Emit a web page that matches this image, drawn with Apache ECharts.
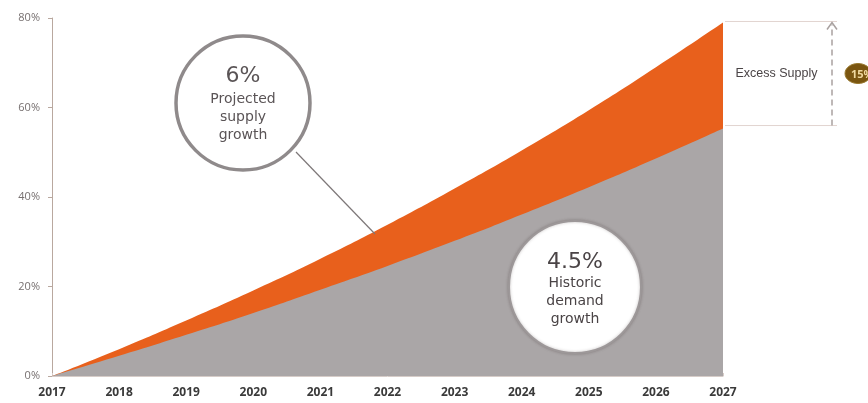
<!DOCTYPE html>
<html>
<head>
<meta charset="utf-8">
<script src="https://cdn.jsdelivr.net/npm/echarts@6/dist/echarts.min.js"></script>
<style>
  html, body { margin: 0; padding: 0; background: #ffffff; }
  #chart { width: 868px; height: 403px; }
</style>
</head>
<body>
<div id="chart"></div>
<script>
// Cumulative growth since 2017 (%)
const years = ['2017', '2018', '2019', '2020', '2021', '2022', '2023', '2024', '2025', '2026', '2027'];
const supplyGrowth = [0, 6.0, 12.4, 19.1, 26.2, 33.8, 41.9, 50.4, 59.4, 69.0, 79.0];
const demandGrowth = [0, 4.5, 9.2, 14.1, 19.3, 24.6, 30.2, 36.1, 42.2, 48.6, 55.3];
const yTicks = [0, 20, 40, 60, 80];
const excessLabel = 'Excess Supply';
const excessBadge = '15%';

const FONT = '"Open Sans", "DejaVu Sans", sans-serif';
const ORANGE = '#e8601c';
const GREY = '#aaa6a7';

const chart = echarts.init(document.getElementById('chart'), null, { renderer: 'canvas' });

const option = {
  animation: false,
  backgroundColor: '#ffffff',
  grid: { left: 52, right: 145, top: 18, bottom: 27, containLabel: false },
  xAxis: {
    type: 'category',
    data: years,
    boundaryGap: false,
    axisLine: { lineStyle: { color: '#d6ccc8', width: 1 } },
    axisTick: { show: true, inside: true, length: 3, lineStyle: { color: '#d6ccc8' } },
    axisLabel: { color: '#3a3a3a', fontFamily: FONT, fontSize: 12, fontWeight: 'bold', margin: 11 },
    splitLine: { show: false }
  },
  yAxis: {
    type: 'value',
    min: yTicks[0],
    max: yTicks[yTicks.length - 1],
    interval: 20,
    axisLine: { show: true, lineStyle: { color: '#b9a89f', width: 1 } },
    axisTick: { show: true, length: 4, lineStyle: { color: '#b9a89f' } },
    axisLabel: { color: '#777070', fontFamily: FONT, fontSize: 11, margin: 12, formatter: '{value}%' },
    splitLine: { show: false }
  },
  series: [
    {
      name: 'Projected supply',
      type: 'line',
      data: supplyGrowth,
      smooth: true,
      symbol: 'none',
      lineStyle: { width: 0 },
      areaStyle: { color: ORANGE, opacity: 1 },
      z: 2
    },
    {
      name: 'Historic demand',
      type: 'line',
      data: demandGrowth,
      smooth: true,
      symbol: 'none',
      lineStyle: { width: 0 },
      areaStyle: { color: GREY, opacity: 1 },
      z: 3
    }
  ]
};

chart.setOption(option);

// Excess supply bracket placed from the 2027 end values
const last = years.length - 1;
const pTop = chart.convertToPixel({ seriesIndex: 0 }, [last, supplyGrowth[last]]);
const pBot = chart.convertToPixel({ seriesIndex: 1 }, [last, demandGrowth[last]]);
const x0 = pTop[0] + 2;
const xArrow = x0 + 107;
const xEnd = x0 + 112;
const yTop = pTop[1] - 1;
const yBot = pBot[1] - 3;
const yMid = (yTop + yBot) / 2;

const CALLOUT_FONT = '"DejaVu Sans", sans-serif';

chart.setOption({
  graphic: [
    // bracket lines
    { type: 'line', shape: { x1: x0, y1: yTop, x2: xEnd, y2: yTop }, style: { stroke: '#e2d4d0', lineWidth: 1 }, z: 10 },
    { type: 'line', shape: { x1: x0, y1: yBot, x2: xEnd, y2: yBot }, style: { stroke: '#e2d4d0', lineWidth: 1 }, z: 10 },
    // dashed arrow
    { type: 'line', shape: { x1: xArrow, y1: yBot, x2: xArrow, y2: yTop + 3 }, style: { stroke: '#a9a1a0', lineWidth: 1.5, lineDash: [6, 4] }, z: 10 },
    { type: 'polyline', shape: { points: [[xArrow - 5, yTop + 8], [xArrow, yTop + 1], [xArrow + 5, yTop + 8]] }, style: { stroke: '#a9a1a0', lineWidth: 1.5, fill: null }, z: 10 },
    {
      type: 'text', x: (x0 + xArrow) / 2 - 2, y: yMid,
      style: { text: excessLabel, fill: '#4a4446', font: '12.5px "Liberation Sans", "DejaVu Sans", sans-serif', align: 'center', verticalAlign: 'middle' },
      z: 10
    },
    // badge
    { type: 'ellipse', shape: { cx: xArrow + 26, cy: yMid, rx: 13, ry: 10 }, style: { fill: '#7a5510', stroke: '#9a7a30', lineWidth: 1 }, z: 10 },
    {
      type: 'text', x: xArrow + 19, y: yMid + 1,
      style: { text: excessBadge, fill: '#f0d9a0', font: 'bold 11px ' + FONT, align: 'left', verticalAlign: 'middle' },
      z: 11
    },

    // supply callout
    { type: 'line', shape: { x1: 296, y1: 152, x2: 375, y2: 234 }, style: { stroke: '#7d7778', lineWidth: 1.2 }, z: 9 },
    { type: 'circle', shape: { cx: 243, cy: 103, r: 67 }, style: { fill: '#ffffff', stroke: '#8f8a8b', lineWidth: 3.5 }, z: 10 },
    {
      type: 'text', x: 243, y: 76,
      style: { text: '6%', fill: '#5a5456', font: '22px ' + CALLOUT_FONT, align: 'center', verticalAlign: 'middle' },
      z: 11
    },
    {
      type: 'text', x: 243, y: 117,
      style: { text: 'Projected\nsupply\ngrowth', fill: '#5a5456', font: '14px ' + CALLOUT_FONT, align: 'center', verticalAlign: 'middle', lineHeight: 18 },
      z: 11
    },

    // demand callout
    { type: 'circle', shape: { cx: 575, cy: 287, r: 66 }, style: { fill: '#ffffff', stroke: '#9d9899', lineWidth: 2, shadowBlur: 3, shadowColor: 'rgba(80,70,70,0.35)' }, z: 10 },
    {
      type: 'text', x: 575, y: 262,
      style: { text: '4.5%', fill: '#4a4446', font: '22px ' + CALLOUT_FONT, align: 'center', verticalAlign: 'middle' },
      z: 11
    },
    {
      type: 'text', x: 575, y: 301,
      style: { text: 'Historic\ndemand\ngrowth', fill: '#4a4446', font: '14px ' + CALLOUT_FONT, align: 'center', verticalAlign: 'middle', lineHeight: 18 },
      z: 11
    }
  ]
});
</script>
</body>
</html>
